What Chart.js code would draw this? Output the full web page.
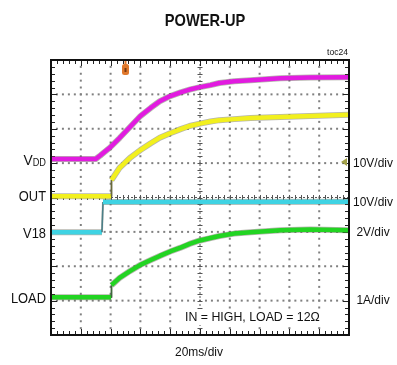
<!DOCTYPE html>
<html>
<head>
<meta charset="utf-8">
<title>Power-up</title>
<script src="https://cdn.jsdelivr.net/npm/chart.js@4.4.1/dist/chart.umd.min.js"></script>
<style>
  html, body { margin: 0; padding: 0; background: #fff; }
  canvas { display: block; }
</style>
</head>
<body>
<canvas id="scope" width="397" height="365"></canvas>
<script>
// time in ms (20ms/div, 10 div), level in screen divisions (8 div)
const vddTime  = [0, 30, 33, 40, 46, 53, 60, 67, 73, 80, 87, 93, 100, 107, 113, 123, 134, 154, 174, 200];
const vddLevel = [5.12, 5.12, 5.22, 5.47, 5.73, 6.05, 6.37, 6.61, 6.80, 6.95, 7.06, 7.14, 7.21, 7.27, 7.33, 7.38, 7.41, 7.47, 7.49, 7.50];

const outTime  = [0, 40.3, 40.6, 46, 53, 60, 67, 73, 80, 87, 93, 100, 107, 113, 123, 134, 154, 174, 200];
const outLevel = [4.04, 4.04, 4.51, 4.86, 5.15, 5.38, 5.58, 5.74, 5.87, 5.99, 6.08, 6.15, 6.21, 6.25, 6.28, 6.31, 6.34, 6.37, 6.41];

const v18Time  = [0, 34.2, 34.9, 200];
const v18Level = [2.99, 2.99, 3.87, 3.88];

const loadTime  = [0, 40.3, 40.6, 46, 53, 60, 67, 73, 80, 87, 93, 100, 107, 113, 123, 134, 144, 154, 174, 200];
const loadLevel = [1.10, 1.10, 1.45, 1.66, 1.86, 2.04, 2.18, 2.30, 2.43, 2.54, 2.65, 2.75, 2.82, 2.88, 2.95, 2.99, 3.02, 3.05, 3.07, 3.05];

const channelNames = ['VDD', 'OUT', 'V18', 'LOAD'];
const channelScales = ['10V/div', '10V/div', '2V/div', '1A/div'];
const channelColors = ['#e21be0', '#f2f01e', '#3fd3e3', '#22d422'];
const edgeColors = ['#5c4a6a', '#6a6a3a', '#4a7f88', '#3c6a3c'];

const xDivs = 10, yDivs = 8, minorPerDiv = 5;
const triggerTime = 50;

function points(t, v) {
  return t.map((x, i) => ({ x: x, y: v[i] }));
}

// fast edges are drawn as a thin line, like the scope does
function steep(c) {
  const dx = Math.abs(c.p1.x - c.p0.x);
  const dy = Math.abs(c.p1.y - c.p0.y);
  return dy > 6 * dx;
}

const traces = [
  points(vddTime, vddLevel),
  points(outTime, outLevel),
  points(v18Time, v18Level),
  points(loadTime, loadLevel)
];

const datasets = [];
traces.forEach((pts, i) => {
  datasets.push({
    data: pts,
    borderColor: 'rgba(70,70,50,0.4)',
    borderWidth: 6,
    borderJoinStyle: 'round',
    pointRadius: 0,
    tension: 0,
    segment: { borderWidth: c => steep(c) ? 2 : undefined },
    order: 20 + i
  });
  datasets.push({
    data: pts,
    borderColor: channelColors[i],
    borderWidth: 4.5,
    borderJoinStyle: 'round',
    pointRadius: 0,
    tension: 0,
    segment: {
      borderWidth: c => steep(c) ? 1.5 : undefined,
      borderColor: c => steep(c) ? edgeColors[i] : undefined
    },
    order: 10 + i
  });
});

const graticule = {
  id: 'graticule',
  beforeDatasetsDraw(chart) {
    const { ctx, chartArea: a, scales: { x, y } } = chart;
    const xStep = (x.max - x.min) / xDivs;
    const yStep = (y.max - y.min) / yDivs;
    ctx.save();

    // dotted division lines
    ctx.fillStyle = '#808080';
    for (let i = 1; i < xDivs; i++) {
      if (i === xDivs / 2) continue;
      const px = x.getPixelForValue(x.min + i * xStep);
      for (let j = 1; j < yDivs * minorPerDiv; j++) {
        const py = y.getPixelForValue(y.min + j * yStep / minorPerDiv);
        ctx.fillRect(px - 1, py - 1, 2, 2);
      }
    }
    for (let k = 1; k < yDivs; k++) {
      if (k === yDivs / 2) continue;
      const py = y.getPixelForValue(y.min + k * yStep);
      for (let j = 1; j < xDivs * minorPerDiv; j++) {
        const px = x.getPixelForValue(x.min + j * xStep / minorPerDiv);
        ctx.fillRect(px - 1, py - 1, 2, 2);
      }
    }

    // centre crosshair with minor ticks
    const cx = x.getPixelForValue(x.min + xStep * xDivs / 2);
    const cy = y.getPixelForValue(y.min + yStep * yDivs / 2);
    ctx.strokeStyle = '#555';
    ctx.lineWidth = 1;
    ctx.setLineDash([2, 2]);
    ctx.beginPath();
    ctx.moveTo(cx, a.top); ctx.lineTo(cx, a.bottom);
    ctx.moveTo(a.left, cy); ctx.lineTo(a.right, cy);
    ctx.stroke();
    ctx.setLineDash([]);
    ctx.beginPath();
    for (let j = 1; j < yDivs * minorPerDiv; j++) {
      const py = Math.round(y.getPixelForValue(y.min + j * yStep / minorPerDiv)) + 0.5;
      ctx.moveTo(cx - 2.5, py); ctx.lineTo(cx + 2.5, py);
    }
    for (let j = 1; j < xDivs * minorPerDiv; j++) {
      const px = Math.round(x.getPixelForValue(x.min + j * xStep / minorPerDiv)) + 0.5;
      ctx.moveTo(px, cy - 2.5); ctx.lineTo(px, cy + 2.5);
    }
    ctx.stroke();

    // minor ticks on the frame edges
    ctx.strokeStyle = '#222';
    ctx.beginPath();
    for (let j = 1; j < xDivs * minorPerDiv; j++) {
      const px = Math.round(x.getPixelForValue(x.min + j * xStep / minorPerDiv)) + 0.5;
      const len = j % minorPerDiv === 0 ? 6 : 4;
      ctx.moveTo(px, a.top); ctx.lineTo(px, a.top + len);
      ctx.moveTo(px, a.bottom); ctx.lineTo(px, a.bottom - len);
    }
    for (let j = 1; j < yDivs * minorPerDiv; j++) {
      const py = Math.round(y.getPixelForValue(y.min + j * yStep / minorPerDiv)) + 0.5;
      const len = j % minorPerDiv === 0 ? 6 : 4;
      ctx.moveTo(a.left, py); ctx.lineTo(a.left + len, py);
      ctx.moveTo(a.right, py); ctx.lineTo(a.right - len, py);
    }
    ctx.stroke();
    ctx.restore();
  },
  afterDatasetsDraw(chart) {
    const { ctx, chartArea: a, scales: { x, y } } = chart;
    ctx.save();
    // frame
    ctx.strokeStyle = '#111';
    ctx.lineWidth = 2;
    ctx.strokeRect(a.left, a.top, a.right - a.left, a.bottom - a.top);

    // trigger position tag
    const tx = x.getPixelForValue(triggerTime);
    ctx.fillStyle = '#e0782c';
    ctx.fillRect(tx - 1, a.top + 1, 2, 4);
    ctx.beginPath();
    ctx.roundRect(tx - 3.5, a.top + 4, 7, 11, 2.5);
    ctx.fill();
    ctx.fillStyle = '#7a3a10';
    ctx.fillRect(tx - 1, a.top + 8, 2, 4);

    // trigger level arrow on the right edge
    const ty = y.getPixelForValue(5.03);
    ctx.fillStyle = '#a3a24a';
    ctx.beginPath();
    ctx.moveTo(a.right - 8, ty);
    ctx.lineTo(a.right - 2, ty - 4);
    ctx.lineTo(a.right - 2, ty + 4);
    ctx.closePath();
    ctx.fill();
    ctx.restore();
  }
};

function condensedText(ctx, text, px, py, font, sx, align, clear) {
  ctx.save();
  ctx.font = font;
  const w = ctx.measureText(text).width * sx;
  let left = px;
  if (align === 'right') left = px - w;
  else if (align === 'center') left = px - w / 2;
  if (clear) {
    ctx.fillStyle = '#fff';
    ctx.fillRect(left - 2, py - 8, w + 4, 16);
    ctx.fillStyle = '#111';
  }
  ctx.translate(left, py);
  ctx.scale(sx, 1);
  ctx.textAlign = 'left';
  ctx.textBaseline = 'middle';
  ctx.fillText(text, 0, 0);
  ctx.restore();
  return w;
}

const labels = {
  id: 'labels',
  afterDraw(chart) {
    const { ctx, chartArea: a, scales: { y } } = chart;
    const face = '"Liberation Sans", Arial, sans-serif';
    ctx.save();
    ctx.fillStyle = '#111';

    condensedText(ctx, 'POWER-UP', 205, 21, 'bold 17px ' + face, 0.86, 'center');
    condensedText(ctx, 'toc24', a.right - 1, 53, '9px ' + face, 0.95, 'right');

    // channel names at each trace's starting level
    const levels = [vddLevel[0], outLevel[0], v18Level[0], loadLevel[0]];
    const labelRight = a.left - 5;
    channelNames.forEach((name, i) => {
      const py = y.getPixelForValue(levels[i]) + 1.5;
      if (name === 'VDD') {
        const sub = condensedText(ctx, 'DD', labelRight, py + 3, '10px ' + face, 0.92, 'right');
        condensedText(ctx, 'V', labelRight - sub, py, '15px ' + face, 0.92, 'right');
      } else {
        condensedText(ctx, name, labelRight, py, '14px ' + face, 0.92, 'right');
      }
    });

    // channel scale factors
    const scaleRows = [163, 202, 232, 300];
    channelScales.forEach((s, i) => {
      condensedText(ctx, s, 373, scaleRows[i], '13px ' + face, 0.92, 'center');
    });

    condensedText(ctx, 'IN = HIGH, LOAD = 12\u03A9', 185, 317, '13px ' + face, 0.95, 'left', true);
    condensedText(ctx, '20ms/div', 199, 352, '13px ' + face, 0.92, 'center');
    ctx.restore();
  }
};

new Chart(document.getElementById('scope').getContext('2d'), {
  type: 'line',
  data: { datasets: datasets },
  options: {
    responsive: false,
    animation: false,
    devicePixelRatio: 1,
    layout: { padding: { left: 51, right: 48, top: 60, bottom: 30 } },
    plugins: {
      legend: { display: false },
      title: { display: false },
      tooltip: { enabled: false }
    },
    scales: {
      x: { type: 'linear', min: 0, max: 200, display: false },
      y: { type: 'linear', min: 0, max: 8, display: false }
    }
  },
  plugins: [graticule, labels]
});
</script>
</body>
</html>
